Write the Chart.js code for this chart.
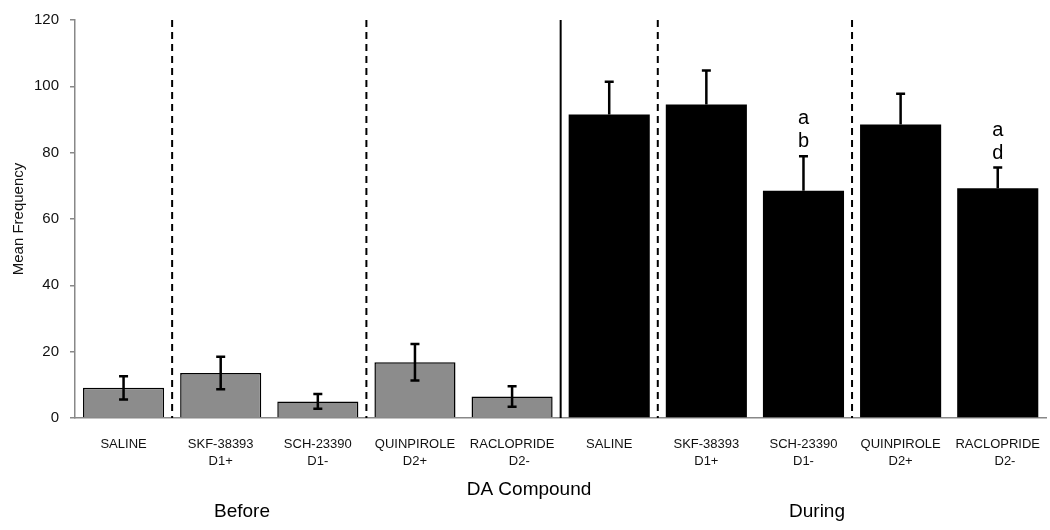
<!DOCTYPE html>
<html>
<head>
<meta charset="utf-8">
<script src="https://cdn.jsdelivr.net/npm/chart.js@4.4.1/dist/chart.umd.min.js"></script>
<style>
  html, body { margin: 0; padding: 0; background: #fff; }
  #wrap { width: 1050px; height: 530px; }
</style>
</head>
<body>
<div id="wrap"><canvas id="freqChart" width="1050" height="530"></canvas></div>
<script>
// ── data
const compounds = [
    ['SALINE'], ['SKF-38393', 'D1+'], ['SCH-23390', 'D1-'], ['QUINPIROLE', 'D2+'], ['RACLOPRIDE', '    D2-']
];
const beforeMeans = [9.1, 13.6, 5.0, 16.8, 6.5];
const beforeErr   = [3.5, 4.9, 2.2, 5.5, 3.1];
const duringMeans = [91.5, 94.5, 68.5, 88.5, 69.3];
const duringErr   = [9.9, 10.3, 10.4, 9.3, 6.2];
const duringMarks = [[], [], ['a', 'b'], [], ['a', 'd']];
const yTicks = [0, 20, 40, 60, 80, 100, 120];
// separators sit after these category indexes
const separators = [
    { after: 0, dashed: true }, { after: 2, dashed: true }, { after: 4, dashed: false },
    { after: 5, dashed: true }, { after: 7, dashed: true }
];

const FONT = "'Liberation Sans', Arial, sans-serif";
const labels = compounds.concat(compounds);
const means = beforeMeans.concat(duringMeans);
const errs = beforeErr.concat(duringErr);
const isBefore = means.map(function(_, i) { return i < beforeMeans.length; });

const separatorPlugin = {
    id: 'separators',
    beforeDatasetsDraw: function(chart) {
        var ctx = chart.ctx, x = chart.scales.x, area = chart.chartArea;
        ctx.save();
        ctx.strokeStyle = '#000';
        ctx.lineWidth = 2;
        separators.forEach(function(s) {
            var px = (x.getPixelForValue(s.after) + x.getPixelForValue(s.after + 1)) / 2;
            ctx.setLineDash(s.dashed ? [7, 5] : []);
            ctx.beginPath();
            ctx.moveTo(px, area.top);
            ctx.lineTo(px, area.bottom);
            ctx.stroke();
        });
        ctx.restore();
    }
};

const errorBarPlugin = {
    id: 'errorBars',
    afterDatasetsDraw: function(chart) {
        var ctx = chart.ctx, y = chart.scales.y;
        var meta = chart.getDatasetMeta(0);
        ctx.save();
        ctx.strokeStyle = '#000';
        ctx.lineWidth = 2.5;
        meta.data.forEach(function(bar, i) {
            var top = y.getPixelForValue(means[i] + errs[i]);
            var bot = isBefore[i] ? y.getPixelForValue(means[i] - errs[i]) : y.getPixelForValue(means[i]);
            var cap = 4.5;
            ctx.beginPath();
            ctx.moveTo(bar.x, top); ctx.lineTo(bar.x, bot);
            ctx.moveTo(bar.x - cap, top); ctx.lineTo(bar.x + cap, top);
            if (isBefore[i]) { ctx.moveTo(bar.x - cap, bot); ctx.lineTo(bar.x + cap, bot); }
            ctx.stroke();
            // significance letters above the during bars
            if (!isBefore[i]) {
                var marks = duringMarks[i - beforeMeans.length];
                ctx.fillStyle = '#000';
                ctx.font = '20px ' + FONT;
                ctx.textAlign = 'center';
                ctx.textBaseline = 'alphabetic';
                for (var k = 0; k < marks.length; k++) {
                    ctx.fillText(marks[k], bar.x, top - 9 - (marks.length - 1 - k) * 23);
                }
            }
        });
        ctx.restore();
    }
};

const bottomTitles = {
    id: 'bottomTitles',
    afterDraw: function(chart) {
        var ctx = chart.ctx;
        ctx.save();
        ctx.fillStyle = '#000';
        ctx.font = '19px ' + FONT;
        ctx.textAlign = 'center';
        ctx.textBaseline = 'middle';
        ctx.fillText('DA Compound', 529, 490);
        ctx.fillText('Before', 242, 512);
        ctx.fillText('During', 817, 512);
        ctx.restore();
    }
};

new Chart(document.getElementById('freqChart').getContext('2d'), {
    type: 'bar',
    data: {
        labels: labels,
        datasets: [{
            data: means,
            backgroundColor: isBefore.map(function(b) { return b ? '#8c8c8c' : '#000'; }),
            borderColor: '#000',
            borderWidth: isBefore.map(function(b) { return b ? 1.5 : 0; }),
            borderSkipped: 'bottom',
            categoryPercentage: 1,
            barPercentage: 0.835
        }]
    },
    options: {
        responsive: false,
        animation: false,
        layout: { padding: { left: 0, right: -4, top: 20, bottom: 0 } },
        plugins: { legend: { display: false }, tooltip: { enabled: false } },
        scales: {
            x: {
                grid: { display: false },
                border: { display: true, color: '#888', width: 1.5 },
                ticks: { color: '#111', font: { family: FONT, size: 13, lineHeight: 1.3 }, padding: 10, maxRotation: 0, autoSkip: false },
                afterFit: function(s) { s.height = 112; }
            },
            y: {
                min: 0, max: 120,
                afterBuildTicks: function(s) { s.ticks = yTicks.map(function(v) { return { value: v }; }); },
                grid: { drawOnChartArea: false, drawTicks: true, tickLength: 5, color: '#888', lineWidth: 1.5 },
                border: { display: true, color: '#888', width: 1.5 },
                ticks: { color: '#111', font: { family: FONT, size: 15 }, padding: 11 },
                title: { display: true, text: 'Mean Frequency', color: '#111', font: { family: FONT, size: 15 }, padding: { top: 10, bottom: 0 } },
                afterFit: function(s) { s.width = 75; }
            }
        }
    },
    plugins: [separatorPlugin, errorBarPlugin, bottomTitles]
});
</script>
</body>
</html>
